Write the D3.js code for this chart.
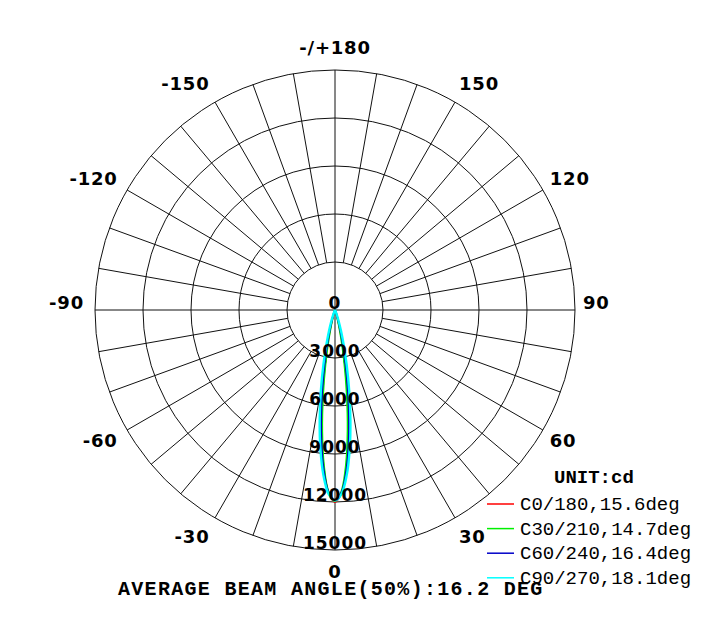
<!DOCTYPE html>
<html>
<head>
<meta charset="utf-8">
<script src="https://cdn.jsdelivr.net/npm/d3@7"></script>
<style>
  html, body { margin: 0; padding: 0; background: #fff; }
  svg { display: block; }
</style>
</head>
<body>
<svg id="chart" width="715" height="633"></svg>
<script>
// ---------- data ----------
const gammaAngles = [0, 2, 4, 6, 8, 10, 12, 14, 16, 18, 20, 25, 30, 40, 60, 90];
const c0Values   = [12000, 11460, 10000, 7970, 5790, 3840, 2330, 1290, 650, 300, 126, 20, 0, 0, 0, 0];
const c180Values = [12000, 11440, 9960, 7900, 5720, 3800, 2300, 1270, 640, 290, 120, 20, 0, 0, 0, 0];
const c30Values  = [11950, 11350, 9730, 7530, 5260, 3310, 1890, 970, 450, 190, 70, 10, 0, 0, 0, 0];
const c210Values = [11950, 11380, 9800, 7620, 5350, 3380, 1930, 1000, 470, 200, 75, 10, 0, 0, 0, 0];
const c60Values  = [11900, 11420, 10090, 8210, 6150, 4250, 2700, 1580, 850, 420, 190, 30, 0, 0, 0, 0];
const c240Values = [11900, 11400, 10050, 8150, 6100, 4200, 2650, 1550, 830, 410, 180, 30, 0, 0, 0, 0];
const c90Values  = [11900, 11510, 10390, 8770, 6930, 5110, 3520, 2260, 1370, 770, 400, 80, 10, 0, 0, 0];
const c270Values = [11900, 11500, 10360, 8720, 6880, 5060, 3480, 2230, 1350, 760, 390, 80, 10, 0, 0, 0];

const seriesNames  = ["C0/180,15.6deg", "C30/210,14.7deg", "C60/240,16.4deg", "C90/270,18.1deg"];
const seriesColors = ["#ff0000", "#00f000", "#0000c8", "#00ffff"];
const seriesRight  = [c0Values, c30Values, c60Values, c90Values];
const seriesLeft   = [c180Values, c210Values, c240Values, c270Values];

const ringValues   = [3000, 6000, 9000, 12000, 15000];
const ringLabels   = ["0", "3000", "6000", "9000", "12000", "15000"];
const angleLabelValues = [0, 30, 60, 90, 120, 150, 180, -30, -60, -90, -120, -150];
const angleLabelText   = ["0", "30", "60", "90", "120", "150", "-/+180", "-30", "-60", "-90", "-120", "-150"];
const unitText  = "UNIT:cd";
const titleText = "AVERAGE BEAM ANGLE(50%):16.2 DEG";

// ---------- layout ----------
const svg = d3.select("#chart");
const cx = 335, cy = 310, R = 240;
const rScale = d3.scaleLinear().domain([0, 15000]).range([0, R]);
const rad = d => d * Math.PI / 180;

const g = svg.append("g").attr("transform", `translate(${cx},${cy})`);
const grid = g.append("g").attr("stroke", "#111").attr("stroke-width", 1).attr("fill", "none");

// rings
grid.selectAll("circle").data(ringValues).join("circle")
  .attr("r", d => rScale(d));

// spokes every 10 degrees from inner ring to outer ring
const spokes = d3.range(0, 360, 10);
grid.selectAll("line.spoke").data(spokes).join("line")
  .attr("class", "spoke")
  .attr("x1", d => (d % 90 === 0 ? 0 : rScale(ringValues[0])) * Math.sin(rad(d)))
  .attr("y1", d => (d % 90 === 0 ? 0 : rScale(ringValues[0])) * Math.cos(rad(d)))
  .attr("x2", d => rScale(15000) * Math.sin(rad(d)))
  .attr("y2", d => rScale(15000) * Math.cos(rad(d)));

// curves
const line = d3.lineRadial()
  .angle(d => d[0])
  .radius(d => rScale(d[1]))
  .curve(d3.curveCatmullRom.alpha(0.5));

seriesNames.forEach((name, i) => {
  const pts = [];
  for (let k = gammaAngles.length - 1; k >= 1; k--) {
    pts.push([Math.PI + rad(gammaAngles[k]), seriesLeft[i][k]]);
  }
  for (let k = 0; k < gammaAngles.length; k++) {
    pts.push([Math.PI - rad(gammaAngles[k]), seriesRight[i][k]]);
  }
  g.append("path")
    .attr("d", line(pts))
    .attr("fill", "none")
    .attr("stroke", seriesColors[i])
    .attr("stroke-width", i === 3 ? 2.4 : 1.8);
});

// ring labels
const labelFont = "DejaVu Sans, Verdana, sans-serif";
g.selectAll("text.ring").data(ringLabels).join("text")
  .attr("class", "ring")
  .attr("x", 0)
  .attr("y", (d, i) => rScale(i * 3000) - 1)
  .attr("text-anchor", "middle")
  .attr("font-family", labelFont)
  .attr("font-size", 17)
  .attr("font-weight", "bold")
  .attr("letter-spacing", 1)
  .attr("fill", "#000")
  .text(d => d);

// angle labels: positive side anchored at start, negative side at end
const RX = 248, RY = 262;
g.selectAll("text.ang").data(angleLabelValues).join("text")
  .attr("class", "ang")
  .attr("x", d => (d === 0 || d === 180) ? 0 : (d > 0 ? RX : RX + 3) * Math.sin(rad(d)))
  .attr("y", d => RY * Math.cos(rad(d)) - (Math.abs(d) === 90 ? 7 : 0))
  .attr("dy", "0.36em")
  .attr("text-anchor", d => (d === 0 || d === 180) ? "middle" : (d > 0 ? "start" : "end"))
  .attr("font-family", labelFont)
  .attr("font-size", 18)
  .attr("font-weight", "bold")
  .attr("letter-spacing", 0.8)
  .attr("fill", "#000")
  .text((d, i) => angleLabelText[i]);

// legend
const mono = "Liberation Mono, Courier New, monospace";
svg.append("text")
  .attr("x", 554).attr("y", 483)
  .attr("font-family", mono).attr("font-size", 19).attr("font-weight", "bold")
  .text(unitText);

const leg = svg.append("g");
seriesNames.forEach((name, i) => {
  const y = 504 + i * 24.6;
  leg.append("line")
    .attr("x1", 487).attr("x2", 514).attr("y1", y).attr("y2", y)
    .attr("stroke", seriesColors[i]).attr("stroke-width", 1.5);
  leg.append("text")
    .attr("x", 520).attr("y", y + 6)
    .attr("font-family", mono).attr("font-size", 19)
    .attr("fill", "#000")
    .text(name);
});

// bottom title
svg.append("text")
  .attr("x", 118).attr("y", 595)
  .attr("font-family", mono).attr("font-size", 20).attr("font-weight", "bold")
  .attr("letter-spacing", 1.3)
  .text(titleText);
</script>
</body>
</html>
